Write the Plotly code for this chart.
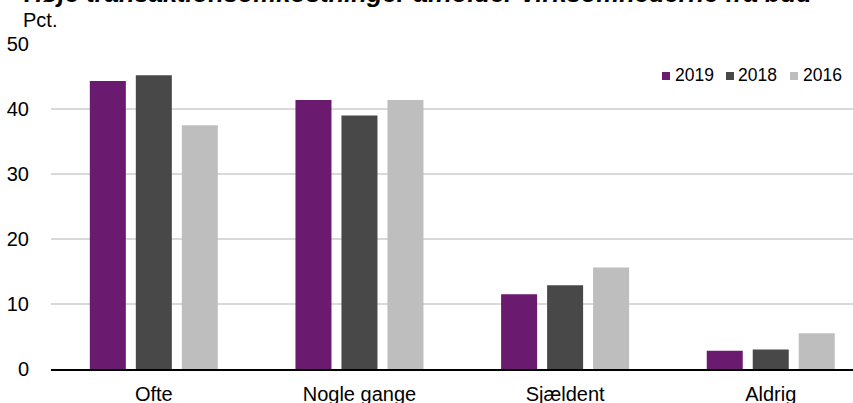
import plotly.graph_objects as go

categories = ["Ofte", "Nogle gange", "Sjældent", "Aldrig"]
years = ["2019", "2018", "2016"]
v2019 = [44.3, 41.4, 11.5, 2.8]
v2018 = [45.2, 39.0, 12.9, 3.0]
v2016 = [37.5, 41.4, 15.6, 5.5]
colors = ["#6a1a6f", "#484848", "#bebebe"]
title_text = "Høje transaktionsomkostninger afholder virksomhederne fra bud"
unit_text = "Pct."

W, H = 853, 403
ml, mr, mt, mb = 51, 0, 44, 34
pw, ph = W - ml - mr, H - mt - mb


def px_x(px):
    return (px - ml) / pw


def px_y(py):
    return 1 - (py - mt) / ph


fig = go.Figure()
for name, vals, col in zip(years, [v2019, v2018, v2016], colors):
    fig.add_trace(go.Bar(x=categories, y=vals, name=name,
                         marker=dict(color=col, line=dict(width=0))))

FONT = "Liberation Sans, Arial, sans-serif"
fig.update_layout(
    width=W, height=H,
    margin=dict(l=ml, r=mr, t=mt, b=mb, autoexpand=False),
    paper_bgcolor="white", plot_bgcolor="white",
    barmode="group", bargap=0.329, bargroupgap=0.217,
    font=dict(family=FONT, size=20, color="#000000"),
    showlegend=False,
    xaxis=dict(range=[-0.5, 3.4], showgrid=False, showline=True,
               linecolor="black", linewidth=2, ticks="",
               tickfont=dict(size=20), ticklabelstandoff=6),
    yaxis=dict(range=[0, 50], dtick=10, showgrid=True, gridcolor="#d9d9d9",
               gridwidth=1.5, zeroline=False, showline=False, ticks="",
               tickfont=dict(size=20), ticklabelstandoff=21),
)

# title (partially cut off at the top, as in the reference)
fig.add_annotation(text=f"<b><i>{title_text}</i></b>", xref="paper", yref="paper",
                   x=px_x(22), xanchor="left",
                   y=px_y(9), yanchor="bottom", showarrow=False,
                   font=dict(size=25.5, family=FONT))
fig.add_annotation(text=unit_text, xref="paper", yref="paper",
                   x=px_x(21), xanchor="left",
                   y=px_y(7), yanchor="top", showarrow=False,
                   font=dict(size=20, family=FONT))

# legend drawn manually (small squares + labels, top right)
legend_sq_x = [662, 726, 790]
legend_tx_x = [673, 736, 801]
for name, col, sx, tx in zip(years, colors, legend_sq_x, legend_tx_x):
    fig.add_shape(type="rect", xref="paper", yref="paper",
                  x0=px_x(sx), x1=px_x(sx + 8), y0=px_y(80), y1=px_y(72),
                  fillcolor=col, line=dict(width=0))
    fig.add_annotation(text=name, xref="paper", yref="paper",
                       x=px_x(tx), xanchor="left", y=px_y(75), yanchor="middle",
                       showarrow=False, font=dict(size=17.5, family=FONT))

fig.write_html("out.html", config={"displayModeBar": False},
               post_script="document.body.style.margin='0';")
